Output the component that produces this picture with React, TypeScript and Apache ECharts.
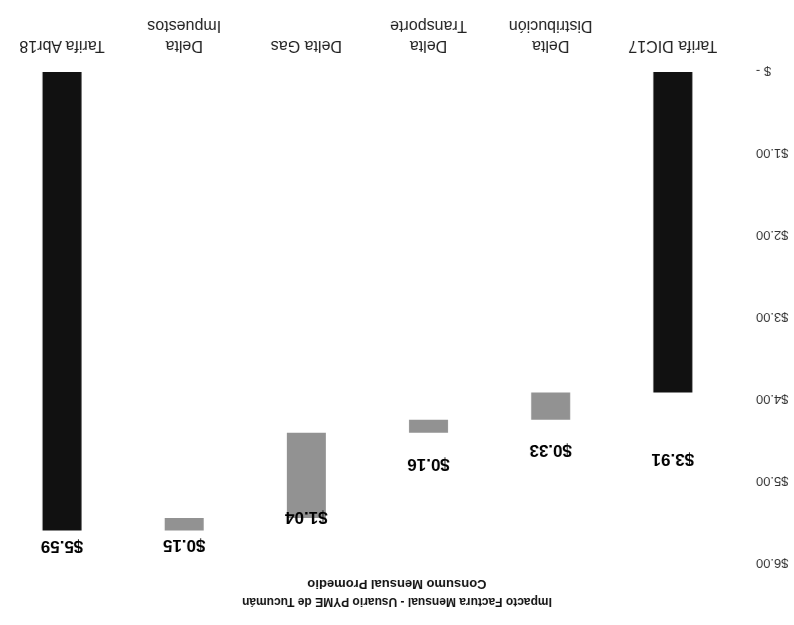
import React, { useEffect, useRef } from "react";
import * as echarts from "echarts";

const titleLines = ["Impacto Factura Mensual - Usuario PYME de Tucumán", "Consumo Mensual Promedio"];
const categories = ["Tarifa DIC17", "Delta\nDistribución", "Delta\nTransporte", "Delta Gas", "Delta\nImpuestos", "Tarifa Abr18"];
const amounts = [3.91, 0.33, 0.16, 1.04, 0.15, 5.59];
const isTotal = [true, false, false, false, false, true];
const yTicks = [0, 1, 2, 3, 4, 5, 6];

// label distance above each bar end (style only)
const labelGaps = [58, 22, 23, -9, 7, 8];

const FONT = "'Liberation Sans', Arial, sans-serif";

export default function App() {
  const ref = useRef<HTMLDivElement>(null);
  useEffect(() => {
    if (!ref.current) return;
    const chart = echarts.init(ref.current, undefined, { renderer: "svg" });

    let running = 0;
    const base: (number | string)[] = [];
    const visible: any[] = [];
    amounts.forEach((v, i) => {
      if (isTotal[i]) {
        base.push("-");
        running = v;
      } else {
        base.push(running);
        running += v;
      }
      visible.push({
        value: v,
        itemStyle: { color: isTotal[i] ? "#111111" : "#929292" },
        label: { distance: labelGaps[i] },
      });
    });

    chart.setOption({
      animation: false,
      backgroundColor: "#ffffff",
      title: [
        {
          text: titleLines[0],
          left: "center",
          top: 12,
          textStyle: { fontFamily: FONT, fontSize: 12, fontWeight: "bold", color: "#111" },
        },
        {
          text: titleLines[1],
          left: "center",
          top: 29,
          textStyle: { fontFamily: FONT, fontSize: 13, fontWeight: "bold", color: "#111" },
        },
      ],
      grid: { left: 60, right: 1, top: 61, bottom: 72, containLabel: false },
      xAxis: {
        type: "category",
        data: categories,
        axisTick: { show: false },
        axisLine: { show: false },
        axisLabel: {
          interval: 0,
          margin: 15,
          fontFamily: FONT,
          fontSize: 16,
          lineHeight: 20,
          color: "#222",
        },
      },
      yAxis: {
        type: "value",
        min: yTicks[0],
        max: yTicks[yTicks.length - 1],
        interval: 1,
        splitLine: { show: false },
        axisLine: { show: false },
        axisTick: { show: false },
        axisLabel: {
          margin: 22,
          fontFamily: FONT,
          fontSize: 13,
          color: "#333",
          formatter: (v: number) => (v === 0 ? "$ -" : "$" + v.toFixed(2)),
        },
      },
      series: [
        {
          type: "bar",
          stack: "w",
          data: base,
          barWidth: 39,
          itemStyle: { color: "transparent" },
          emphasis: { disabled: true },
          silent: true,
        },
        {
          type: "bar",
          stack: "w",
          data: visible,
          barWidth: 39,
          label: {
            show: true,
            position: "top",
            fontFamily: FONT,
            fontSize: 17,
            fontWeight: "bold",
            color: "#000",
            formatter: (p: any) => "$" + Number(p.value).toFixed(2),
          },
        },
      ],
    });
    return () => chart.dispose();
  }, []);

  return (
    <div
      style={{
        position: "fixed",
        left: 0,
        top: 0,
        width: 794,
        height: 625,
        background: "#fff",
        transform: "rotate(180deg)",
      }}
    >
      <div ref={ref} style={{ width: 794, height: 625 }} />
    </div>
  );
}
